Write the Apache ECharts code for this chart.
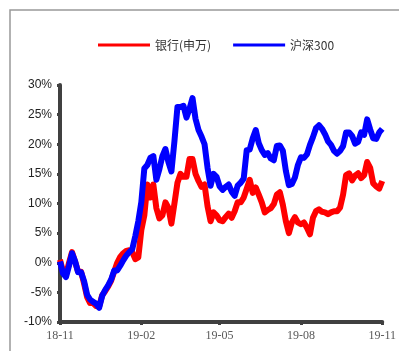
<!DOCTYPE html>
<html>
<head>
<meta charset="utf-8">
<script src="https://cdn.jsdelivr.net/npm/echarts@6/dist/echarts.min.js"></script>
<style>
  html, body { margin: 0; padding: 0; background: #fff; }
  #chart { width: 399px; height: 351px; }
</style>
</head>
<body>
<div id="chart"></div>
<script>
// x tick labels and the point index each one sits on
const tickLabels = ['18-11', '19-02', '19-05', '19-08', '19-11'];
const tickIndex = [0, 27, 53, 80, 107];

// cumulative return (%) of 银行(申万)
const bank = [
  0.5, -1.5, -2.0, 0.0, 1.8, 0.2, -1.5, -1.5, -3.5, -5.8,
  -6.8, -6.8, -7.3, -7.4, -5.5, -4.8, -4.0, -3.0, -1.5, 0.0,
  1.0, 1.6, 2.0, 2.1, 1.8, 0.6, 0.9, 5.5, 8.0, 13.2,
  11.0, 13.2, 9.2, 7.5, 8.0, 10.2, 9.3, 6.6, 10.0, 13.5,
  15.0, 14.5, 14.5, 17.5, 17.5, 15.0, 13.8, 12.8, 13.2, 9.5,
  7.0, 8.5, 8.0, 7.2, 7.0, 7.7, 8.3, 7.6, 8.7, 10.2,
  10.2, 11.0, 12.5, 14.0, 11.8, 12.7, 11.5, 10.2, 8.5, 8.9,
  9.2, 9.9, 11.5, 11.9, 9.8, 7.0, 5.0, 6.8, 7.7, 6.8,
  6.5, 6.8, 5.9, 4.8, 7.6, 8.7, 9.0, 8.6, 8.5, 8.2,
  8.5, 8.7, 8.7, 9.3, 11.5, 14.8, 15.1, 13.9, 14.7, 15.1,
  14.3, 14.8, 17.0, 16.0, 13.4, 12.9, 12.5, 13.8
];

// cumulative return (%) of 沪深300
const hs300 = [
  0.2, -1.8, -2.4, -0.5, 1.6, 0.3, -1.6, -1.6, -3.1, -5.4,
  -6.2, -6.6, -6.9, -7.6, -5.6, -4.6, -3.8, -2.8, -1.3, -1.3,
  -0.5, 0.4, 1.2, 1.8, 2.3, 4.5, 7.0, 10.2, 15.9, 16.5,
  17.7, 18.0, 14.0, 15.8, 18.0, 19.2, 17.0, 15.4, 20.5, 26.3,
  26.3, 26.5, 24.5, 26.0, 27.8, 24.3, 22.4, 21.3, 20.0, 16.0,
  13.0, 15.0, 14.5, 12.9, 12.3, 12.8, 13.2, 12.0, 11.3, 13.0,
  13.5, 14.2, 19.0, 19.1, 21.0, 22.4, 20.2, 19.0, 18.2, 18.5,
  17.6, 17.3, 19.7, 19.8, 18.9, 15.5, 13.1, 13.3, 14.4, 16.5,
  17.8, 17.7, 18.3, 19.9, 21.2, 22.7, 23.2, 22.6, 21.7, 20.5,
  19.9, 18.9, 18.4, 18.9, 19.7, 22.0, 22.0, 21.4, 20.1, 20.4,
  22.0, 21.6, 24.2, 22.5, 21.0, 20.9, 22.0, 22.6
];

const categories = bank.map(function (_, i) {
  const k = tickIndex.indexOf(i);
  return k >= 0 ? tickLabels[k] : String(i);
});
const showTick = function (i) { return tickIndex.indexOf(i) >= 0; };

const chart = echarts.init(document.getElementById('chart'));
chart.setOption({
  animation: false,
  backgroundColor: '#fff',
  graphic: [{
    type: 'rect',
    shape: { x: 10, y: 10, width: 420, height: 380 },
    style: { fill: 'none', stroke: '#999', lineWidth: 1.5 },
    silent: true
  }],
  legend: {
    left: 93,
    top: 34,
    icon: 'rect',
    itemWidth: 52,
    itemHeight: 3,
    itemGap: 22,
    textStyle: { fontFamily: 'Noto Sans CJK SC', fontSize: 12, color: '#333' },
    data: ['银行(申万)', '沪深300']
  },
  grid: { left: 60, right: 16, top: 85, bottom: 29 },
  xAxis: {
    type: 'category',
    data: categories,
    boundaryGap: false,
    axisLine: { onZero: false, lineStyle: { color: '#404040', width: 4 } },
    axisTick: { show: true, interval: showTick, length: 3, lineStyle: { color: '#404040', width: 3 } },
    axisLabel: {
      interval: showTick,
      margin: 8,
      fontFamily: 'Liberation Serif',
      fontSize: 12,
      color: '#595959'
    },
    splitLine: { show: false }
  },
  yAxis: {
    type: 'value',
    min: -10,
    max: 30,
    interval: 5,
    axisLine: { show: true, lineStyle: { color: '#404040', width: 4 } },
    axisTick: { show: true, length: 3, lineStyle: { color: '#404040', width: 3 } },
    axisLabel: {
      formatter: '{value}%',
      margin: 8,
      fontFamily: 'Liberation Sans',
      fontSize: 12,
      color: '#222'
    },
    splitLine: { show: false }
  },
  series: [
    {
      name: '银行(申万)',
      type: 'line',
      data: bank,
      showSymbol: false,
      itemStyle: { color: '#ff0000' },
      lineStyle: { color: '#ff0000', width: 6, join: 'round' }
    },
    {
      name: '沪深300',
      type: 'line',
      data: hs300,
      showSymbol: false,
      itemStyle: { color: '#0000ff' },
      lineStyle: { color: '#0000ff', width: 6, join: 'round' }
    }
  ]
});
</script>
</body>
</html>
